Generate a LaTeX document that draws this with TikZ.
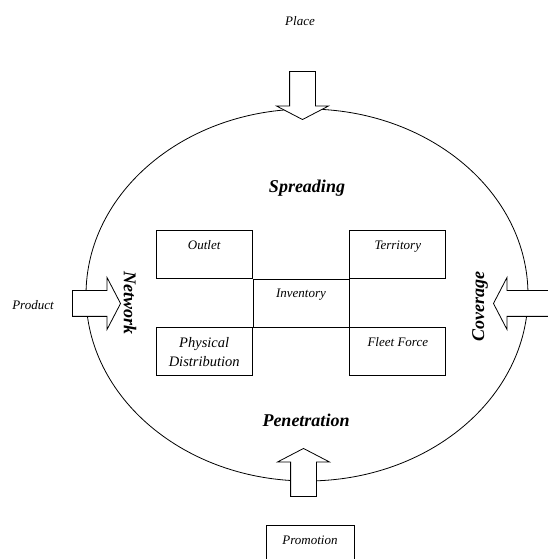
\documentclass[tikz,border=0pt]{standalone}
\usepackage{fontspec}
\setmainfont{Liberation Serif}
\usetikzlibrary{positioning, shapes.arrows}

\begin{document}
\begin{tikzpicture}[
					x=1pt, y=1pt, line width=0.8pt,
					small text/.style={font=\itshape\fontsize{13}{15}\selectfont},
					heading/.style={font=\bfseries\itshape\fontsize{18}{22}\selectfont},
					box/.style={draw, minimum width=96pt, minimum height=48pt, inner sep=0pt, font=\itshape\fontsize{13}{15}\selectfont},
					top box/.style={box, text height=9pt, text depth=19pt},
					block arrow/.style={single arrow, draw, fill=white, minimum height=48pt, inner xsep=0pt, inner ysep=12.5pt,
						single arrow head extend=13pt, single arrow tip angle=125}
					]
					\useasboundingbox (0,0) rectangle (548,559);
					\draw (307,264) ellipse [x radius=221, y radius=186];
					% boxes in the middle
					\node (inv) [top box] at (301,256) {Inventory};
					\node (outlet) [top box, above left=0pt of inv] {Outlet};
					\node (territory) [top box, above right=0pt of inv] {Territory};
					\node (physical) [box, below left=0pt of inv, align=center, font=\itshape\fontsize{14.5}{19}\selectfont] {Physical\\Distribution};
					\node (fleet) [top box, below right=0pt of inv] {Fleet Force};
					% block arrows
					\node (place arrow) [block arrow, rotate=-90, anchor=tip] at (302.5,439) {};
					\node (promo arrow) [block arrow, rotate=90, anchor=tip] at (303.5,111) {};
					\node (product arrow) [block arrow, anchor=tip] at (121,255.5) {};
					\node (coverage arrow) [block arrow, rotate=180, minimum height=64pt, anchor=tip] at (493,255.5) {};
					% texts
					\node (place) [small text] at (300,538) {Place};
					\node (product) [small text] at (33,254) {Product};
					\node (promo) [top box, minimum width=88pt, anchor=north] at (310,34) {Promotion};
					\node (spreading) [heading] at (307,371) {Spreading};
					\node (penetration) [heading] at (306,139) {Penetration};
					\node (network) [heading, rotate=-90] at (130,256) {Network};
					\node (coverage) [heading, rotate=90] at (480,252) {Coverage};
				\end{tikzpicture}
\end{document}
